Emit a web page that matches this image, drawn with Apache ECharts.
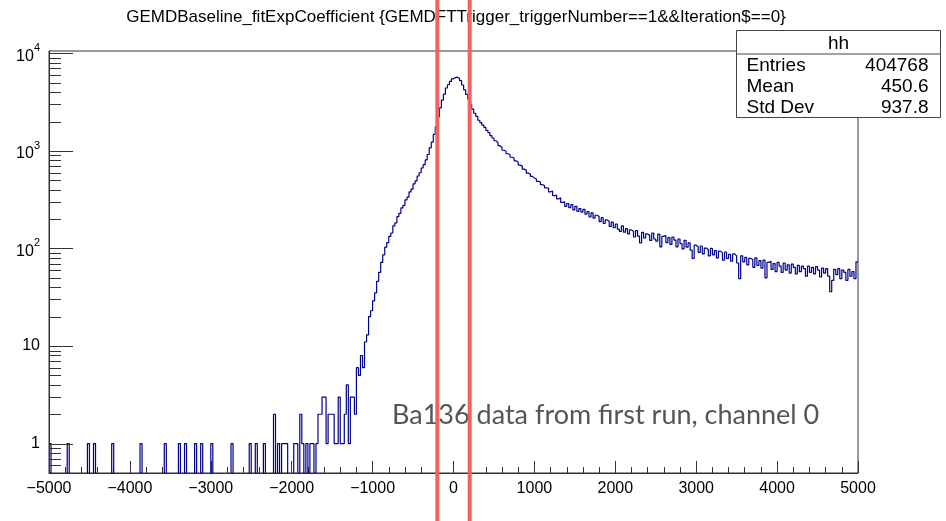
<!DOCTYPE html>
<html>
<head>
<meta charset="utf-8">
<title>GEMDBaseline_fitExpCoefficient</title>
<script src="https://cdn.jsdelivr.net/npm/echarts@6/dist/echarts.min.js"></script>
<style>
  html, body { margin: 0; padding: 0; background: #fff; }
  #chart { width: 946px; height: 521px; }
</style>
</head>
<body>
<div id="chart"></div>
<script>
// texts
const titleText = 'GEMDBaseline_fitExpCoefficient {GEMDFTTrigger_triggerNumber==1&&Iteration$==0}';
const statName = 'hh';
const statLabels = ['Entries', 'Mean', 'Std Dev'];
const statValues = ['404768', '450.6', '937.8'];
const noteText = 'Ba136 data from first run, channel 0';

// binning: 400 bins of width 25 between -5000 and 5000
const xMin = -5000;
const xMax = 5000;
const binWidth = 25;
const binCount = 400;

// sparse counts on the left side (bin index -> count)
const leftBins = [0, 9, 19, 22, 31, 45, 57, 64, 67, 72, 75, 80, 90, 99, 102, 106, 111, 113, 115, 116,
  117, 121, 122, 124, 125, 127, 129, 130, 132, 133, 134, 135, 136, 137, 138, 139, 140, 141, 142, 143,
  144, 145, 146, 147, 148, 149, 150, 151, 152];
const leftCounts = [1, 1, 1, 1, 1, 1, 1, 1, 1, 1, 1, 1, 1, 1, 1, 1, 2, 1, 1, 1,
  1, 1, 1, 2, 1, 1, 1, 1, 1, 2, 2, 3, 3, 1, 2, 2, 2, 1, 1, 3,
  1, 1, 2, 4, 1, 3, 3, 2, 6];

// filled part, from bin 153 (x = -1175) up to the last bin
const mainStart = 153;
const mainCounts = [
  5, 8, 6, 11, 13, 20, 23,                                   // -1175
  29, 35, 46, 57, 72, 86, 103, 115, 133, 144,                // -1000
  170, 183, 212, 229, 260, 277, 314, 336, 380, 405,          // -750
  458, 492, 553, 597, 668, 722, 808, 918, 1075, 1230,        // -500
  1475, 1770, 2220, 2760, 3320, 3810, 4410, 4760, 5150, 5470, // -250
  5640, 5690, 5510, 5240, 4730, 4220, 3790, 3400, 2990, 2680, // 0
  2430, 2260, 2060, 1950, 1840, 1745, 1625, 1540, 1430, 1355, // 250
  1270, 1215, 1130, 1085, 1015, 990, 935, 912, 860, 842,      // 500
  790, 765, 715, 698, 650, 635, 592, 578, 548, 528,           // 750
  515, 488, 478, 450, 441, 418, 415, 380, 388, 348,           // 1000
  352, 322, 330, 296, 301, 270, 289, 262, 281, 249,           // 1250
  270, 240, 256, 236, 251, 225, 238, 210, 232, 205,           // 1500
  219, 212, 188, 207, 181, 196, 190, 168, 186, 163,           // 1750
  178, 158, 150, 170, 147, 160, 141, 155, 150, 131,           // 2000
  152, 134, 114, 146, 128, 141, 137, 121, 144, 125,           // 2250
  119, 140, 104, 133, 136, 115, 129, 110, 131, 122,           // 2500
  104, 125, 112, 99, 121, 103, 114, 96, 79, 108,              // 2750
  104, 91, 106, 88, 101, 97, 84, 100, 86, 95,                 // 3000
  80, 94, 90, 76, 92, 79, 87, 74, 88, 84,                     // 3250
  71, 49, 84, 73, 81, 68, 79, 77, 64, 80,                     // 3500
  67, 75, 63, 76, 50, 72, 74, 61, 70, 58,                     // 3750
  72, 66, 57, 71, 60, 68, 56, 69, 64, 55,                     // 4000
  67, 58, 66, 62, 52, 66, 57, 64, 55, 65,                     // 4250
  60, 51, 63, 56, 62, 52, 36, 47, 61, 54,                     // 4500
  62, 49, 60, 57, 47, 61, 52, 58, 49, 73                      // 4750
];

// log axis ticks (ROOT style, drawn inside the frame)
const yMajorTicks = [1, 10, 100, 1000, 10000];
const yMinorTicks = [0.6, 0.7, 0.8, 0.9,
  2, 3, 4, 5, 6, 7, 8, 9,
  20, 30, 40, 50, 60, 70, 80, 90,
  200, 300, 400, 500, 600, 700, 800, 900,
  2000, 3000, 4000, 5000, 6000, 7000, 8000, 9000];
const yMin = 0.5;
const yMax = 10557;

// red cut lines
const cutLines = [-200, 200];

const rootFont = '"Liberation Sans", Arial, sans-serif';
const frameColor = '#333';

let counts = new Array(binCount).fill(0);
leftBins.forEach((b, i) => { counts[b] = leftCounts[i]; });
mainCounts.forEach((c, i) => { counts[mainStart + i] = c; });

// empty bins go below the log floor so the step drops out of the frame
const emptyValue = 0.001;
let stepData = counts.map((c, i) => [xMin + i * binWidth, c > 0 ? c : emptyValue]);
stepData.push([xMax, stepData[stepData.length - 1][1]]);

let yTickData = yMajorTicks.concat(yMinorTicks).map(v => [xMin, v]);

let chart = echarts.init(document.getElementById('chart'), null, {renderer: 'canvas'});

chart.setOption({
  animation: false,
  title: {
    text: titleText,
    left: 456,
    top: 9,
    padding: 0,
    textAlign: 'center',
    textStyle: {fontFamily: rootFont, fontSize: 17, fontWeight: 'normal', color: '#000'}
  },
  grid: {
    left: 49,
    right: 88,
    top: 51,
    bottom: 48,
    show: true,
    borderColor: frameColor,
    borderWidth: 1,
    backgroundColor: 'transparent'
  },
  xAxis: {
    type: 'value',
    min: xMin,
    max: xMax,
    interval: 1000,
    axisLine: {onZero: false, lineStyle: {color: frameColor, width: 1}},
    axisTick: {inside: true, length: 12, lineStyle: {color: frameColor}},
    minorTick: {show: true, splitNumber: 5, length: 6, lineStyle: {color: frameColor}},
    splitLine: {show: false},
    axisLabel: {
      fontFamily: rootFont,
      fontSize: 16,
      color: '#000',
      margin: 8,
      formatter: v => String(v).replace('-', '\u2212')
    }
  },
  yAxis: {
    type: 'log',
    logBase: 10,
    min: yMin,
    max: yMax,
    axisLine: {onZero: false, lineStyle: {color: frameColor, width: 1}},
    axisTick: {show: false},
    splitLine: {show: false},
    axisLabel: {
      fontFamily: rootFont,
      fontSize: 16,
      color: '#000',
      margin: 9,
      showMinLabel: true,
      showMaxLabel: true,
      formatter: function (v) {
        let e = Math.log10(v);
        let k = Math.round(e);
        if (Math.abs(e - k) > 1e-6) return '';
        if (k === 0) return '1';
        if (k === 1) return '10';
        return '{b|10}{s|' + k + '}';
      },
      rich: {
        b: {fontFamily: rootFont, fontSize: 16, color: '#000', padding: [6, 0, 0, 0]},
        s: {fontFamily: rootFont, fontSize: 11, color: '#000', padding: [0, 0, 10, 0]}
      }
    }
  },
  series: [
    {
      name: 'hh',
      type: 'line',
      step: 'end',
      data: stepData,
      showSymbol: false,
      symbol: 'none',
      clip: true,
      lineStyle: {color: '#00008f', width: 1.2},
      z: 2
    },
    {
      // y axis tick marks on the log scale
      type: 'custom',
      data: yTickData,
      silent: true,
      z: 3,
      renderItem: function (params, api) {
        let p = api.coord([api.value(0), api.value(1)]);
        let y = Math.round(p[1]) + 0.5;
        let len = params.dataIndex < yMajorTicks.length ? 24 : 12;
        return {
          type: 'line',
          shape: {x1: p[0], y1: y, x2: p[0] + len, y2: y},
          style: {stroke: frameColor, lineWidth: 1}
        };
      }
    }
  ]
});

// stats box, note and cut lines, placed after the axes exist
let statFont = '19px ' + rootFont;
let statChildren = [
  {type: 'rect', shape: {x: 0, y: 0, width: 204, height: 87}, style: {fill: '#fff', stroke: '#444', lineWidth: 1}},
  {type: 'line', shape: {x1: 0, y1: 23.5, x2: 204, y2: 23.5}, style: {stroke: '#444', lineWidth: 1}},
  {type: 'text', style: {text: statName, x: 102, y: 13, align: 'center', verticalAlign: 'middle', font: statFont, fill: '#000'}}
];
statLabels.forEach((label, i) => {
  let y = 35 + i * 21;
  statChildren.push({type: 'text', style: {text: label, x: 10, y: y, align: 'left', verticalAlign: 'middle', font: statFont, fill: '#000'}});
  statChildren.push({type: 'text', style: {text: statValues[i], x: 192, y: y, align: 'right', verticalAlign: 'middle', font: statFont, fill: '#000'}});
});

let redLines = cutLines.map(v => {
  let px = chart.convertToPixel({xAxisIndex: 0}, v);
  return {
    type: 'line',
    z: 100,
    shape: {x1: px, y1: 0, x2: px, y2: 521},
    style: {stroke: '#f4625f', lineWidth: 4}
  };
});

chart.setOption({
  graphic: [
    {type: 'group', x: 736.5, y: 30.5, z: 50, children: statChildren},
    {
      type: 'text',
      z: 60,
      style: {text: noteText, x: 392, y: 415, align: 'left', verticalAlign: 'middle', font: '27px Lato, "Noto Sans", sans-serif', fill: '#555'}
    }
  ].concat(redLines)
});
</script>
</body>
</html>
